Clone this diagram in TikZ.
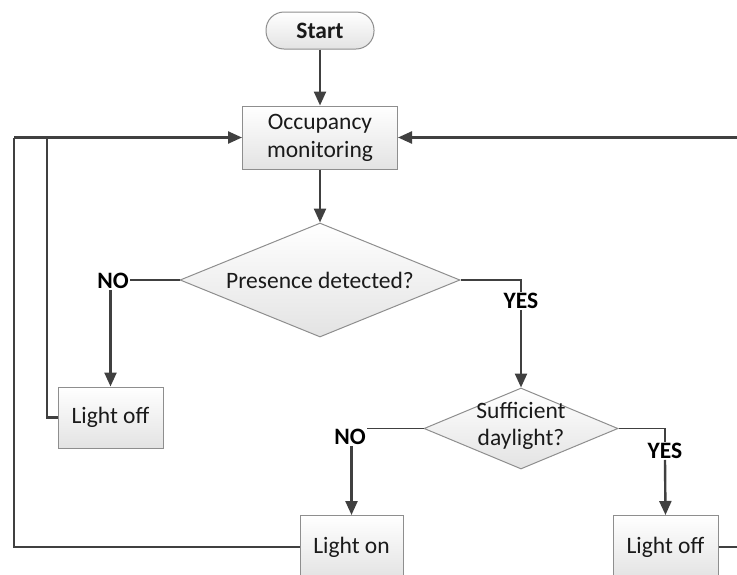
\documentclass[tikz,border=0pt]{standalone}
\usepackage{fontspec}
\setmainfont{Carlito}
\usetikzlibrary{shapes.geometric,arrows.meta}
\definecolor{linec}{HTML}{404040}
\definecolor{bord}{HTML}{8E8E8E}
\definecolor{txt}{HTML}{1A1A1A}
\tikzset{
  basefont/.style={font=\fontsize{23.5}{28}\selectfont},
  box/.style={rectangle, draw=bord, line width=1pt, top color=white, bottom color=black!11,
    inner sep=0pt, text=txt, align=center, basefont},
  startbox/.style={box, rounded corners=18pt, font=\fontsize{23.5}{28}\selectfont\bfseries},
  dia/.style={diamond, draw=bord, line width=1pt, top color=white, bottom color=black!11,
    inner sep=0pt, text=txt, basefont},
  lab/.style={inner sep=1pt, text=black, font=\fontsize{23.5}{28}\selectfont\bfseries},
  conn/.style={draw=linec, line width=2.4pt},
  thinconn/.style={draw=linec, line width=1.6pt},
  arr/.style={conn, -{Triangle[length=14pt,width=12pt]}}
}
\begin{document}
\begin{tikzpicture}[x=1pt,y=-1pt]
\useasboundingbox (0,0) rectangle (737,574);
\clip (0,0) rectangle (737,574);
% nodes
\node[startbox, minimum width=108pt, minimum height=37pt] (start) at (320,30.5) {Start};
\node[box, minimum width=155pt, minimum height=63pt] (occ) at (320,137.5) {Occupancy\\monitoring};
\node[dia, minimum width=280pt, minimum height=114pt] (d1) at (320,280)
  {\makebox[0pt]{Presence detected?}};
\node[lab] (no1) at (113,281) {NO};
\node[box, minimum width=105pt, minimum height=61pt] (lf1) at (110.5,417.5) {Light off};
\node[lab] (yes1) at (521,301) {YES};
\node[dia, minimum width=194pt, minimum height=81pt] (d2) at (521,428.5)
  {\raisebox{0pt}[0pt][0pt]{\makebox[0pt]{\raisebox{-4pt}{\begin{tabular}{@{}c@{}}Sufficient\\[-0.5pt]daylight?\end{tabular}}}}};
\node[lab] (no2) at (350,437) {NO};
\node[box, minimum width=103pt, minimum height=63pt] (lon) at (351.5,547) {Light on};
\node[lab] (yes2) at (665,451) {YES};
\node[box, minimum width=105pt, minimum height=63pt] (lf2) at (665.5,547) {Light off};
\coordinate (jl) at (14,137.5);
\coordinate (ji) at (47,137.5);
% connectors
\draw[arr] (start) -- (occ);
\draw[arr] (occ) -- (d1);
\draw[thinconn] (d1.west) -- (d1.west -| no1.east);
\draw[arr] (no1.south -| lf1.north) -- (lf1.north);
\draw[thinconn] (d1.east) -| (yes1.north);
\draw[arr] (yes1.south) -- (d2.north);
\draw[thinconn] (d2.west) -- (d2.west -| no2.east);
\draw[arr] (no2.south -| lon.north) -- (lon.north);
\draw[thinconn] (d2.east) -| (yes2.north);
\draw[arr] (yes2.south) -- (lf2.north);
\draw[conn] (lon.west) -| (jl);
\draw[conn] (lf1.west) -| (ji);
\draw[arr] (jl) -- (occ.west);
\draw[arr] (lf2.east) -- ++(40,0) |- (occ.east);
\end{tikzpicture}
\end{document}
